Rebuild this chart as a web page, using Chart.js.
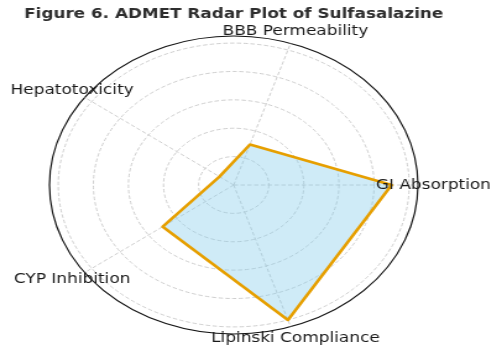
<!DOCTYPE html>
<html>
<head>
<meta charset="utf-8">
<script src="https://cdn.jsdelivr.net/npm/chart.js@4/dist/chart.umd.min.js"></script>
<style>
  html, body { margin: 0; padding: 0; background: #fff; }
  #wrap {
    position: relative;
    width: 406px;
    height: 355px;
    transform: scaleX(1.2365);
    transform-origin: 0 0;
  }
</style>
</head>
<body>
<div id="wrap"><canvas id="radar"></canvas></div>
<script>
// axes listed clockwise from the top spoke
const axes = ['BBB Permeability', 'GI Absorption', 'Lipinski Compliance', 'CYP Inhibition', 'Hepatotoxicity'];
const scores = [1.5, 4.5, 5, 2.5, 0.5];
const ringValues = [0, 1, 2, 3, 4, 5];
const rMax = 5.25;
const titleText = 'Figure 6. ADMET Radar Plot of Sulfasalazine';

// title and spoke labels; labels sit just outside the outer ring, centred like matplotlib does
const radarText = {
  id: 'radarText',
  afterDatasetsDraw(chart) {
    const scale = chart.scales.r;
    const ctx = chart.ctx;
    ctx.save();
    ctx.textAlign = 'center';
    ctx.textBaseline = 'middle';

    ctx.font = 'bold 13.6px "DejaVu Sans"';
    ctx.fillStyle = '#2e2e2e';
    ctx.fillText(titleText, scale.xCenter, 14);

    ctx.font = '13.7px "DejaVu Sans"';
    ctx.fillStyle = '#1a1a1a';
    chart.data.labels.forEach((label, i) => {
      const p = scale.getPointPosition(i, scale.drawingArea + 12.5);
      ctx.fillText(label, p.x, p.y);
    });
    ctx.restore();
  }
};

const isOuter = (ctx) => ctx.tick && ctx.tick.value === rMax;

new Chart(document.getElementById('radar'), {
  type: 'radar',
  data: {
    labels: axes,
    datasets: [{
      data: scores,
      backgroundColor: 'rgba(135,206,235,0.4)',
      borderColor: '#E69F00',
      borderWidth: 2.6,
      borderJoinStyle: 'round',
      pointRadius: 0,
      pointHoverRadius: 0,
      fill: true,
      tension: 0
    }]
  },
  options: {
    responsive: true,
    maintainAspectRatio: false,
    animation: false,
    events: [],
    layout: {
      padding: { top: 36, left: 39, right: 67, bottom: 21 }
    },
    scales: {
      r: {
        min: 0,
        max: rMax,
        startAngle: 18,
        afterBuildTicks: (scale) => {
          scale.ticks = ringValues.concat([rMax]).map(v => ({ value: v }));
        },
        ticks: { display: false },
        pointLabels: { display: false },
        grid: {
          circular: true,
          color: (ctx) => isOuter(ctx) ? '#111111' : '#c8c8c8',
          lineWidth: (ctx) => isOuter(ctx) ? 1.2 : 0.9
        },
        border: {
          dash: (ctx) => isOuter(ctx) ? [] : [3.5, 2]
        },
        angleLines: {
          display: true,
          color: '#c8c8c8',
          lineWidth: 0.9,
          borderDash: [3.5, 2]
        }
      }
    },
    plugins: {
      legend: { display: false },
      tooltip: { enabled: false },
      title: { display: false }
    }
  },
  plugins: [radarText]
});
</script>
</body>
</html>
